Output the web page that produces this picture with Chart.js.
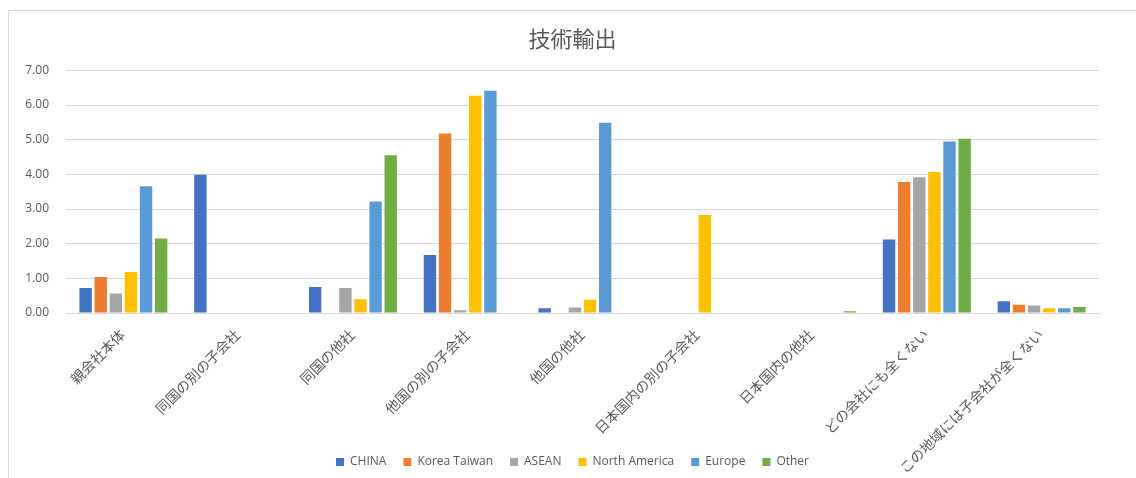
<!DOCTYPE html>
<html lang="ja">
<head>
<meta charset="utf-8">
<title>技術輸出</title>
<script src="https://cdn.jsdelivr.net/npm/chart.js@4/dist/chart.umd.min.js"></script>
<style>
    html, body { margin: 0; padding: 0; background: #fff; overflow: hidden; }
    #marco {
        position: absolute;
        left: 8px;
        top: 10px;
        width: 1127px;
        height: 467px;
        border-left: 1px solid #d9d9d9;
        border-top: 1px solid #d9d9d9;
    }
    #miGrafico { display: block; }
</style>
</head>
<body>
<div id="marco"><canvas id="miGrafico" width="1127" height="467"></canvas></div>
<script>
const categorias = ['親会社本体', '同国の別の子会社', '同国の他社', '他国の別の子会社', '他国の他社', '日本国内の別の子会社', '日本国内の他社', 'どの会社にも全くない', 'この地域には子会社が全くない'];
const china = [0.72, 3.99, 0.75, 1.67, 0.14, 0, 0, 2.12, 0.34];
const koreaTaiwan = [1.04, 0, 0, 5.18, 0, 0, 0, 3.78, 0.24];
const asean = [0.56, 0, 0.72, 0.08, 0.16, 0, 0, 3.92, 0.22];
const northAmerica = [1.18, 0, 0.40, 6.27, 0.38, 2.83, 0, 4.07, 0.14];
const europe = [3.66, 0, 3.22, 6.41, 5.49, 0, 0, 4.95, 0.14];
const other = [2.15, 0, 4.55, 0, 0, 0, 0.05, 5.03, 0.17];
const ticksY = [0, 1, 2, 3, 4, 5, 6, 7];

const gris = '#595959';
const fuente = '"Open Sans", "Noto Sans CJK JP", sans-serif';

function serie(nombre, valores, color) {
    return {
        label: nombre,
        data: valores,
        backgroundColor: color,
        borderWidth: 0,
        barPercentage: 0.82,
        categoryPercentage: 0.79
    };
}

// las etiquetas largas del eje x bajan hasta el borde del lienzo, por debajo de la leyenda
const etiquetasLargas = {
    id: 'etiquetasLargas',
    afterLayout: function (chart) {
        chart.scales.x.bottom = chart.height;
    }
};

function crearGrafico() {
    var ctx = document.getElementById('miGrafico').getContext('2d');
    window.miGrafico = new Chart(ctx, {
        type: 'bar',
        data: {
            labels: categorias,
            datasets: [
                serie('CHINA', china, '#4472C4'),
                serie('Korea Taiwan', koreaTaiwan, '#ED7D31'),
                serie('ASEAN', asean, '#A5A5A5'),
                serie('North America', northAmerica, '#FFC000'),
                serie('Europe', europe, '#5B9BD5'),
                serie('Other', other, '#70AD47')
            ]
        },
        plugins: [etiquetasLargas],
        options: {
            responsive: false,
            animation: false,
            layout: { padding: 0 },
            plugins: {
                title: {
                    display: true,
                    text: '技術輸出',
                    color: gris,
                    font: { family: fuente, size: 22, weight: 'normal' },
                    padding: { top: 17, bottom: 16 }
                },
                legend: {
                    position: 'bottom',
                    labels: {
                        color: gris,
                        font: { family: fuente, size: 12 },
                        boxWidth: 8,
                        boxHeight: 8,
                        padding: 17
                    }
                },
                tooltip: { enabled: false }
            },
            scales: {
                x: {
                    grid: { display: false, drawTicks: false },
                    border: { color: '#d9d9d9' },
                    ticks: {
                        color: gris,
                        font: { family: fuente, size: 14 },
                        maxRotation: 45,
                        minRotation: 45,
                        padding: 14,
                        autoSkip: false
                    },
                    afterFit: function (escala) { escala.height = 126; }
                },
                y: {
                    min: 0,
                    max: 7,
                    afterBuildTicks: function (escala) {
                        escala.ticks = ticksY.map(function (v) { return { value: v }; });
                    },
                    grid: { color: '#d9d9d9', drawTicks: false },
                    border: { display: false },
                    ticks: {
                        color: gris,
                        font: { family: fuente, size: 12 },
                        padding: 17,
                        callback: function (v) { return Number(v).toFixed(2); }
                    },
                    afterFit: function (escala) { escala.width = 57; }
                },
                // margen derecho vacío
                margen: {
                    type: 'linear',
                    position: 'right',
                    grid: { display: false, drawTicks: false },
                    border: { display: false },
                    ticks: { display: false },
                    afterFit: function (escala) { escala.width = 37; }
                }
            }
        }
    });
}

document.addEventListener('DOMContentLoaded', function () {
    crearGrafico();
});
</script>
</body>
</html>
